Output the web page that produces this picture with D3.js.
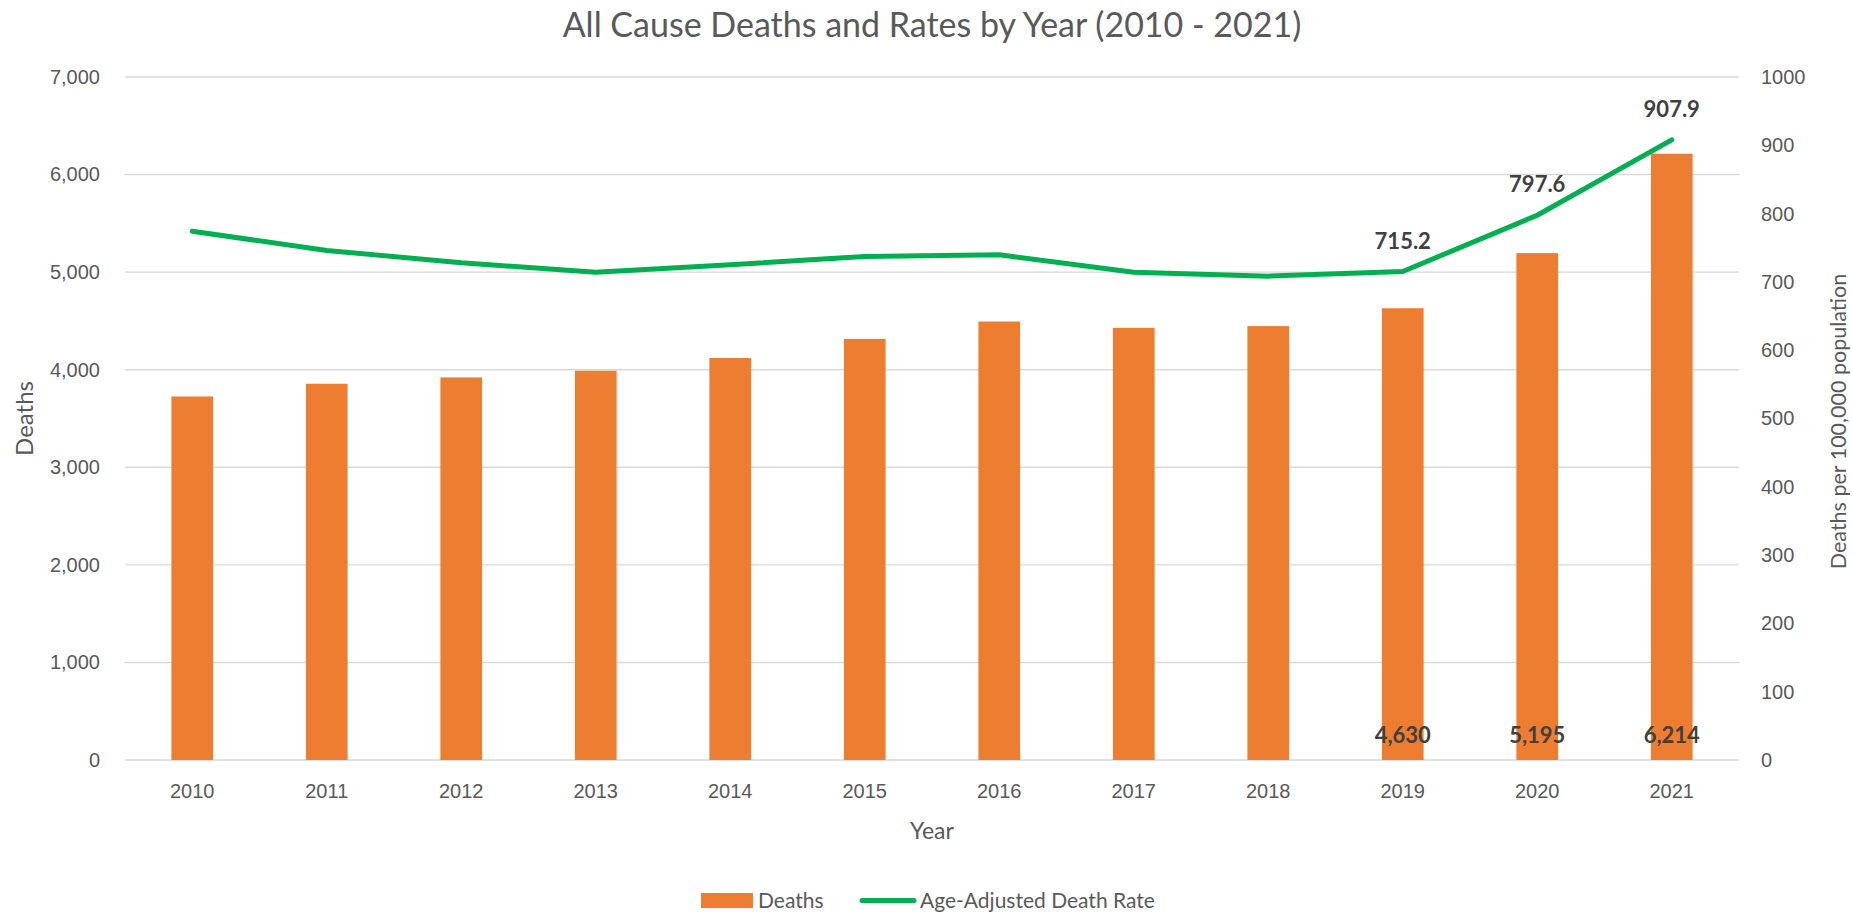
<!DOCTYPE html>
<html>
<head>
<meta charset="utf-8">
<script src="https://cdn.jsdelivr.net/npm/d3@7"></script>
<style>
  html, body { margin: 0; padding: 0; background: #ffffff; }
  svg { display: block; font-family: Lato, "Open Sans", sans-serif; }
</style>
</head>
<body>
<svg id="chart" width="1852" height="912"></svg>
<script>
// Annual all-cause deaths and age-adjusted death rate
const years = ["2010", "2011", "2012", "2013", "2014", "2015", "2016", "2017", "2018", "2019", "2020", "2021"];
const deaths = [3726, 3856, 3921, 3990, 4120, 4316, 4494, 4429, 4447, 4630, 5195, 6214];
const rates = [774.1, 746.1, 728.0, 714.3, 725.0, 737.3, 739.8, 714.0, 708.4, 715.2, 797.6, 907.9];
const labelledYears = ["2019", "2020", "2021"];
const deathTicks = [0, 1000, 2000, 3000, 4000, 5000, 6000, 7000];
const rateTicks = [0, 100, 200, 300, 400, 500, 600, 700, 800, 900, 1000];

const rows = years.map((y, i) => ({ year: y, deaths: deaths[i], rate: rates[i] }));

const plot = { left: 125, right: 1739, top: 77, bottom: 760 };
const textColor = "#595959";
const labelColor = "#404040";
const barColor = "#ED7D31";
const lineColor = "#00B050";
const gridColor = "#d9d9d9";

const svg = d3.select("#chart");

const x = d3.scaleBand().domain(years).range([plot.left, plot.right])
  .paddingInner(0.69).paddingOuter(0.345);
const yL = d3.scaleLinear().domain([0, 7000]).range([plot.bottom, plot.top]);
const yR = d3.scaleLinear().domain([0, 1000]).range([plot.bottom, plot.top]);

// Title
svg.append("text")
  .attr("x", (plot.left + plot.right) / 2).attr("y", 37)
  .attr("text-anchor", "middle")
  .attr("font-size", 34).attr("fill", textColor)
  .text("All Cause Deaths and Rates by Year (2010 - 2021)");

// Horizontal gridlines at the left-axis ticks
svg.append("g").selectAll("line").data(deathTicks).join("line")
  .attr("x1", plot.left).attr("x2", plot.right)
  .attr("y1", d => yL(d)).attr("y2", d => yL(d))
  .attr("stroke", gridColor).attr("stroke-width", 1.4);

// Left axis
const gL = svg.append("g").attr("transform", `translate(${plot.left},0)`)
  .call(d3.axisLeft(yL).tickValues(deathTicks).tickFormat(d3.format(",")).tickSize(0).tickPadding(25));
gL.select(".domain").remove();
gL.selectAll("text").attr("font-size", 20).attr("fill", textColor).attr("font-family", null);

// Right axis
const gR = svg.append("g").attr("transform", `translate(${plot.right},0)`)
  .call(d3.axisRight(yR).tickValues(rateTicks).tickFormat(d3.format("d")).tickSize(0).tickPadding(22));
gR.select(".domain").remove();
gR.selectAll("text").attr("font-size", 20).attr("fill", textColor).attr("font-family", null);

// Bottom axis
const gB = svg.append("g").attr("transform", `translate(0,${plot.bottom})`)
  .call(d3.axisBottom(x).tickSize(0).tickPadding(24));
gB.select(".domain").remove();
gB.selectAll("text").attr("font-size", 20).attr("fill", textColor).attr("font-family", null);

// Bars
svg.append("g").selectAll("rect").data(rows).join("rect")
  .attr("x", d => x(d.year)).attr("width", x.bandwidth())
  .attr("y", d => yL(d.deaths)).attr("height", d => yL(0) - yL(d.deaths))
  .attr("fill", barColor);

// Rate line
const line = d3.line().x(d => x(d.year) + x.bandwidth() / 2).y(d => yR(d.rate));
svg.append("path").datum(rows)
  .attr("d", line).attr("fill", "none")
  .attr("stroke", lineColor).attr("stroke-width", 5)
  .attr("stroke-linejoin", "round").attr("stroke-linecap", "round");

// Value labels for the most recent years
const recent = rows.filter(d => labelledYears.includes(d.year));
svg.append("g").selectAll("text").data(recent).join("text")
  .attr("x", d => x(d.year) + x.bandwidth() / 2)
  .attr("y", plot.bottom - 17)
  .attr("text-anchor", "middle").attr("font-size", 22).attr("font-weight", 700)
  .attr("fill", labelColor)
  .text(d => d3.format(",")(d.deaths));

svg.append("g").selectAll("text").data(recent).join("text")
  .attr("x", d => x(d.year) + x.bandwidth() / 2)
  .attr("y", d => yR(d.rate) - 23)
  .attr("text-anchor", "middle").attr("font-size", 22).attr("font-weight", 700)
  .attr("fill", labelColor)
  .text(d => d3.format(".1f")(d.rate));

// Axis titles
svg.append("text")
  .attr("transform", `translate(33,${(plot.top + plot.bottom) / 2}) rotate(-90)`)
  .attr("text-anchor", "middle").attr("font-size", 24).attr("fill", textColor)
  .text("Deaths");

svg.append("text")
  .attr("transform", `translate(1846,${(plot.top + plot.bottom) / 2 + 3}) rotate(-90)`)
  .attr("text-anchor", "middle").attr("font-size", 21.5).attr("fill", textColor)
  .text("Deaths per 100,000 population");

svg.append("text")
  .attr("x", (plot.left + plot.right) / 2).attr("y", 839)
  .attr("text-anchor", "middle").attr("font-size", 23).attr("fill", textColor)
  .text("Year");

// Legend
const legend = svg.append("g");
legend.append("rect").attr("x", 701).attr("y", 893).attr("width", 52).attr("height", 15).attr("fill", barColor);
legend.append("text").attr("x", 758).attr("y", 908).attr("font-size", 21).attr("fill", textColor).text("Deaths");
legend.append("line").attr("x1", 862).attr("x2", 914).attr("y1", 900.5).attr("y2", 900.5)
  .attr("stroke", lineColor).attr("stroke-width", 5).attr("stroke-linecap", "round");
legend.append("text").attr("x", 920).attr("y", 908).attr("font-size", 21).attr("fill", textColor).text("Age-Adjusted Death Rate");
</script>
</body>
</html>
